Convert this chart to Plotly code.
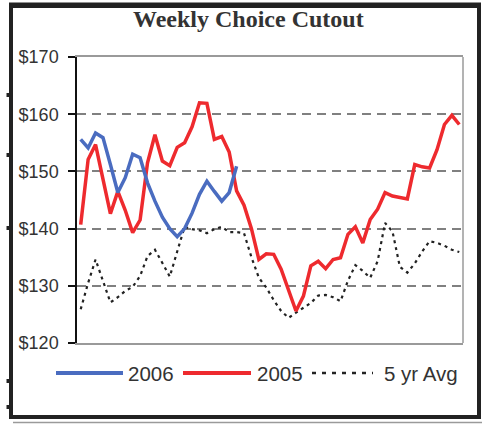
import plotly.graph_objects as go

# ---------------- data ----------------
weeks = list(range(1, 53))
weeks_2006 = list(range(1, 23))

cutout_2006 = [155.6, 154.1, 156.7, 155.9, 151.2, 146.3, 148.9, 153.0, 152.4, 148.0,
               144.8, 142.0, 140.0, 138.6, 140.0, 142.7, 146.0, 148.3, 146.5, 144.8,
               146.3, 150.9]

cutout_2005 = [140.7, 152.1, 154.7, 148.4, 142.6, 146.5, 143.2, 139.3, 141.5, 151.5,
               156.4, 151.8, 151.0, 154.2, 155.0, 157.8, 162.0, 161.9, 155.6, 156.1,
               153.4, 146.6, 144.1, 140.0, 134.6, 135.6, 135.5, 132.9, 129.4, 125.6,
               128.2, 133.5, 134.3, 133.0, 134.6, 134.9, 139.0, 140.3, 137.5, 141.6,
               143.4, 146.3, 145.7, 145.4, 145.2, 151.2, 150.8, 150.6, 153.8, 158.2,
               159.8, 158.2]

avg_5yr = [125.9, 130.5, 134.6, 130.8, 127.1, 128.0, 129.1, 129.8, 131.7, 135.2,
           136.3, 134.0, 131.6, 136.0, 140.3, 139.9, 139.7, 139.2, 139.9, 140.3,
           139.4, 139.4, 139.2, 135.0, 131.4, 129.7, 127.5, 125.6, 124.4, 125.3,
           126.2, 127.0, 128.3, 128.4, 128.0, 127.3, 130.9, 133.6, 132.6, 131.4,
           134.3, 141.0, 139.5, 133.3, 132.3, 133.9, 136.0, 137.8, 137.5, 137.0,
           136.3, 135.9]

y_ticks = [120, 130, 140, 150, 160, 170]
y_labels = ["$120", "$130", "$140", "$150", "$160", "$170"]

series_names = ["2006", "2005", "5 yr Avg"]
title_text = "Weekly Choice Cutout"

# ---------------- layout geometry ----------------
W, H = 482, 424
ML, MR, MT, MB = 77, 19, 57, 81
PW, PH = W - ML - MR, H - MT - MB

def px(x):
    return (x - ML) / PW

def py(y):
    return (H - MB - y) / PH

BLUE = "#4a6cc0"
RED = "#ee2a2e"
DOT = "#222222"
FRAME = "#222222"

fig = go.Figure()
fig.add_trace(go.Scatter(x=weeks, y=avg_5yr, mode="lines", name=series_names[2],
                         line=dict(color=DOT, width=2.2, dash="3px,4px")))
fig.add_trace(go.Scatter(x=weeks, y=cutout_2005, mode="lines", name=series_names[1],
                         line=dict(color=RED, width=3.5)))
fig.add_trace(go.Scatter(x=weeks_2006, y=cutout_2006, mode="lines", name=series_names[0],
                         line=dict(color=BLUE, width=3.5)))

shapes = []
# plot border right side
shapes.append(dict(type="line", xref="paper", yref="paper", x0=1, x1=1, y0=0, y1=1,
                   line=dict(color="#9a9a9a", width=1.5)))

def box(x0, y0, x1, y1, color):
    shapes.append(dict(type="rect", xref="paper", yref="paper",
                       x0=px(x0), x1=px(x1), y0=py(y0), y1=py(y1),
                       line=dict(width=0), fillcolor=color, layer="above"))

# outer frame (filled bars)
box(9, 2.5, 481, 8, FRAME)        # top
box(9, 3, 13, 419, FRAME)         # left
box(477, 3, 481, 419, FRAME)      # right
box(9, 415, 481, 419, FRAME)      # bottom
# faint line under frame
box(13, 421.8, 482, 423.2, "#9a9a9a")
# small nubs on left edge
for ny in [95, 155, 228, 381, 407]:
    box(6.5, ny - 2, 9.5, ny + 2, FRAME)

# manual legend
legend_items = [
    (56, 123, 126, series_names[0], dict(color=BLUE, width=4)),
    (183, 251, 255, series_names[1], dict(color=RED, width=4)),
    (312, 373, 382, series_names[2], dict(color=DOT, width=2.5, dash="4px,6px")),
]
annotations = []
LY = 373
for x0, x1, tx, name, ln in legend_items:
    shapes.append(dict(type="line", xref="paper", yref="paper",
                       x0=px(x0), x1=px(x1), y0=py(LY), y1=py(LY), line=ln))
    annotations.append(dict(xref="paper", yref="paper", x=px(tx), y=py(LY),
                            xanchor="left", yanchor="middle", showarrow=False,
                            text=name,
                            font=dict(family="Liberation Sans, Arial", size=20.5,
                                      color="#333333")))

annotations.append(dict(xref="paper", yref="paper", x=px(248.5), y=py(18.5),
                        xanchor="center", yanchor="middle", showarrow=False,
                        text="<b>" + title_text + "</b>",
                        font=dict(family="Liberation Serif, Times New Roman", size=24,
                                  color="#333333")))

fig.update_layout(
    width=W, height=H,
    margin=dict(l=ML, r=MR, t=MT, b=MB, pad=0),
    paper_bgcolor="white", plot_bgcolor="white",
    showlegend=False,
    shapes=shapes,
    annotations=annotations,
    xaxis=dict(range=[0.5, 52.5], showgrid=False, zeroline=False,
               showticklabels=False, ticks="",
               showline=True, linecolor="#9a9a9a", linewidth=1.5, mirror=True),
    yaxis=dict(range=[120, 170], tickvals=y_ticks, ticktext=y_labels,
               showgrid=True, gridcolor="#808080", gridwidth=1.5, griddash="9px,6px",
               zeroline=False,
               showline=True, linecolor="#111111", linewidth=1.5,
               ticks="outside", ticklen=7, tickcolor="#111111", tickwidth=1.5,
               ticklabelstandoff=6,
               tickfont=dict(family="Liberation Sans, Arial", size=18, color="#333333")),
)

fig.write_html("out.html",
               config={"displayModeBar": False},
               post_script="document.body.style.margin='0';document.body.style.overflow='hidden';")
